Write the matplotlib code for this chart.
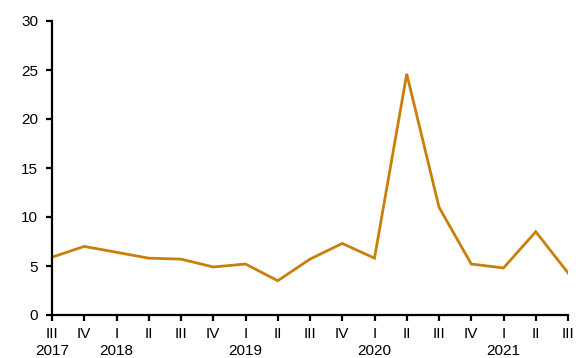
import matplotlib
matplotlib.use("Agg")
import matplotlib.pyplot as plt

# -----------------------------
# Data (quarterly, III 2017 - III 2021)
# -----------------------------

quarters = ["III", "IV", "I", "II", "III", "IV", "I", "II", "III",
            "IV", "I", "II", "III", "IV", "I", "II", "III"]
years = {0: "2017", 2: "2018", 6: "2019", 10: "2020", 14: "2021"}
values = [5.9, 7.0, 6.4, 5.8, 5.7, 4.9, 5.2, 3.5, 5.7,
          7.3, 5.8, 24.6, 11.0, 5.2, 4.8, 8.5, 4.3]

LINE_COLOR = "#C8800A"

plt.rcParams["font.family"] = ["Liberation Sans", "DejaVu Sans"]

fig = plt.figure(figsize=(5.76, 3.58), dpi=100)
ax = fig.add_axes([52 / 576, 1 - 315 / 358, 516 / 576, 294 / 358])

x = list(range(len(values)))
ax.plot(x, values, color=LINE_COLOR, linewidth=2, solid_joinstyle="miter")

ax.set_xlim(0, len(values) - 1)
ax.set_ylim(0, 30)
ax.set_yticks([0, 5, 10, 15, 20, 25, 30])

labels = []
for i, q in enumerate(quarters):
    if i in years:
        labels.append(q + "\n" + years[i])
    else:
        labels.append(q)
ax.set_xticks(x)
ax.set_xticklabels(labels, linespacing=1.3)

for side in ["top", "right"]:
    ax.spines[side].set_visible(False)
for side in ["left", "bottom"]:
    ax.spines[side].set_linewidth(1.6)
    ax.spines[side].set_color("black")

ax.tick_params(axis="both", direction="out", length=4, width=1.6,
               labelsize=11, colors="black")
ax.tick_params(axis="x", pad=4.5)
ax.tick_params(axis="y", pad=6)

fig.savefig("out.png", dpi=100)
